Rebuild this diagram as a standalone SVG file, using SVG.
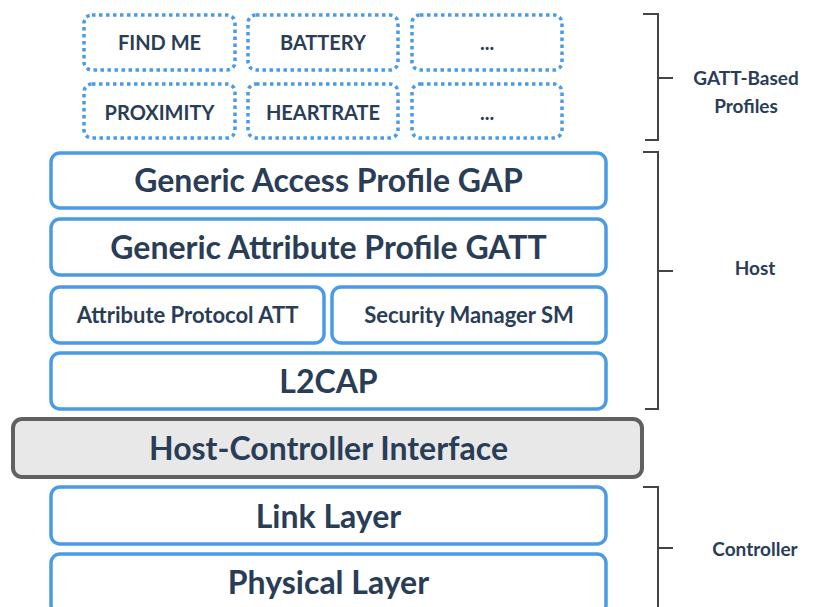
<svg xmlns="http://www.w3.org/2000/svg" width="817" height="607" viewBox="0 0 817 607">
<style>
.blue{fill:#ffffff;stroke:#4a9be6;stroke-width:3.5}
.dot{fill:#ffffff;stroke:#4a9be6;stroke-width:3.5;stroke-dasharray:3.5 3.5}
.hci{fill:#e8e8e8;stroke:#606060;stroke-width:4}
.t{font-family:Lato,"Open Sans","Liberation Sans",sans-serif;font-weight:bold;fill:#2a3d56;text-anchor:middle}
.big{font-size:32px}
.mid{font-size:22px}
.sm{font-size:20px}
.lb{font-size:19px}
.br{fill:none;stroke:#444;stroke-width:2}
</style>
<rect width="817" height="607" fill="#ffffff"/>
<g id="find-me"><rect class="dot" x="84" y="15" width="151" height="55" rx="8"/><text class="t sm" x="159.5" y="50">FIND ME</text></g>
<g id="battery"><rect class="dot" x="248" y="15" width="150" height="55" rx="8"/><text class="t sm" x="323" y="50">BATTERY</text></g>
<g id="more1"><rect class="dot" x="412" y="15" width="150" height="55" rx="8"/><text class="t sm" x="487" y="50">...</text></g>
<g id="proximity"><rect class="dot" x="84" y="84" width="151" height="54" rx="8"/><text class="t sm" x="159.5" y="120">PROXIMITY</text></g>
<g id="heartrate"><rect class="dot" x="248" y="84" width="150" height="54" rx="8"/><text class="t sm" x="323" y="120">HEARTRATE</text></g>
<g id="more2"><rect class="dot" x="412" y="84" width="150" height="54" rx="8"/><text class="t sm" x="487" y="120">...</text></g>
<g id="gap"><rect class="blue" x="51" y="153" width="555" height="55" rx="9"/><text class="t big" x="328.5" y="192">Generic Access Profile GAP</text></g>
<g id="gatt"><rect class="blue" x="51" y="219" width="555" height="56" rx="9"/><text class="t big" x="328.5" y="258.5">Generic Attribute Profile GATT</text></g>
<g id="att"><rect class="blue" x="51" y="287" width="273" height="56" rx="9"/><text class="t mid" x="187.5" y="323">Attribute Protocol ATT</text></g>
<g id="sm"><rect class="blue" x="332" y="287" width="274" height="56" rx="9"/><text class="t mid" x="469" y="323">Security Manager SM</text></g>
<g id="l2cap"><rect class="blue" x="51" y="353" width="555" height="56" rx="9"/><text class="t big" x="328.5" y="392.5">L2CAP</text></g>
<g id="hci"><rect class="hci" x="13" y="419" width="629" height="58" rx="9"/><text class="t big" x="328.5" y="459.5">Host-Controller Interface</text></g>
<g id="link"><rect class="blue" x="51" y="487" width="555" height="57" rx="9"/><text class="t big" x="328.5" y="527.5">Link Layer</text></g>
<g id="phy"><rect class="blue" x="51" y="554" width="555" height="60" rx="9"/><text class="t big" x="328.5" y="594">Physical Layer</text></g>
<g id="brackets">
<path class="br" d="M643 14 H658 V140 H645 M658 78 H673"/>
<path class="br" d="M643 152 H658 V409 H645 M658 271 H673"/>
<path class="br" d="M643 487 H658 V610 M658 548 H673"/>
</g>
<g id="labels">
<text class="t lb" x="746" y="85">GATT-Based</text>
<text class="t lb" x="746" y="113">Profiles</text>
<text class="t lb" x="755" y="275">Host</text>
<text class="t lb" x="755" y="556">Controller</text>
</g>
</svg>
